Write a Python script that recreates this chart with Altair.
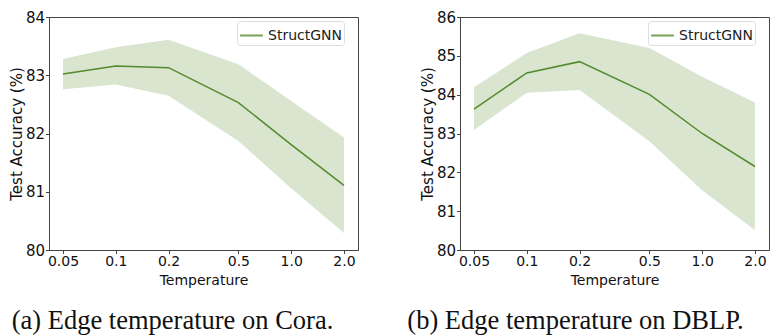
import altair as alt
import pandas as pd

temps = [0.05, 0.1, 0.2, 0.5, 1.0, 2.0]
cora_mean = [83.02, 83.16, 83.13, 82.53, 81.81, 81.11]
cora_upper = [83.28, 83.48, 83.61, 83.19, 82.56, 81.93]
cora_lower = [82.76, 82.84, 82.65, 81.87, 81.06, 80.29]
dblp_mean = [83.63, 84.56, 84.85, 84.01, 83.00, 82.15]
dblp_upper = [84.19, 85.07, 85.58, 85.20, 84.46, 83.80]
dblp_lower = [83.09, 84.05, 84.12, 82.80, 81.54, 80.51]
series_name = "StructGNN"
captions = ["(a) Edge temperature on Cora.", "(b) Edge temperature on DBLP."]

LINE = "#548a2c"
BAND = "#d9e5cf"
DARK = "#444444"
XDOM = [0.0416, 2.405]
SANS = "DejaVu Sans"


def panel(mean, upper, lower, ydom, caption, dx):
    df = pd.DataFrame({"t": temps, "m": mean, "hi": upper, "lo": lower,
                       "s": [series_name] * len(temps)})
    yvals = list(range(ydom[0], ydom[1] + 1))
    xaxis = alt.Axis(values=temps, title="Temperature",
                     labelExpr="datum.value == 1 ? '1.0' : datum.value == 2 ? '2.0' : datum.label",
                     labelFont=SANS, titleFont=SANS, labelOverlap=False,
                     labelFontSize=14, titleFontSize=14, titlePadding=5,
                     labelPadding=1)
    yaxis = alt.Axis(values=yvals, tickCount=len(yvals), format="d",
                     labelOverlap=False, labelFont=SANS, titleFont=SANS,
                     title="Test Accuracy (%)", labelFontSize=15,
                     titleFontSize=15, titlePadding=1, labelPadding=1)
    xs = alt.Scale(type="log", domain=XDOM, nice=False)
    ys = alt.Scale(domain=ydom, nice=False)
    band = alt.Chart(df).mark_area(color=BAND, opacity=1).encode(
        x=alt.X("t:Q", scale=xs, axis=xaxis),
        y=alt.Y("lo:Q", scale=ys, axis=yaxis),
        y2="hi:Q",
    )
    line = alt.Chart(df).mark_line(strokeWidth=1.5).encode(
        x=alt.X("t:Q", scale=xs, axis=xaxis),
        y=alt.Y("m:Q", scale=ys, axis=yaxis),
        color=alt.Color("s:N", scale=alt.Scale(range=[LINE]),
                        legend=alt.Legend(title=None, orient="none",
                                          legendX=188, legendY=4,
                                          symbolType="stroke", symbolSize=520,
                                          symbolStrokeWidth=2, symbolOpacity=0.8,
                                          labelFontSize=14, labelFont=SANS,
                                          labelColor="#222",
                                          strokeColor="#dddddd", cornerRadius=3,
                                          padding=2, fillColor="white")),
    )
    return alt.layer(band, line).properties(
        width=309, height=233,
        title=alt.TitleParams(caption, orient="bottom", anchor="middle",
                              font="Liberation Serif", fontSize=26.5,
                              fontWeight="normal", color="#111", offset=20, dx=dx),
    )


p1 = panel(cora_mean, cora_upper, cora_lower, [80, 84], captions[0], -31)
p2 = panel(dblp_mean, dblp_upper, dblp_lower, [80, 86], captions[1], -39)

chart = alt.hconcat(p1, p2, spacing=47).resolve_legend(color="independent").resolve_scale(
    color="independent").configure_view(stroke=DARK, strokeWidth=1).configure_axis(
    grid=False, domainColor=DARK, tickColor=DARK, tickSize=3.5, labelColor="#111",
    titleColor="#111", labelFont=SANS, titleFont=SANS,
    titleFontWeight="normal").properties(padding={"left": 0, "top": 1, "right": 0, "bottom": 0})

chart.save("out.html", embed_options={"renderer": "svg", "actions": False})
